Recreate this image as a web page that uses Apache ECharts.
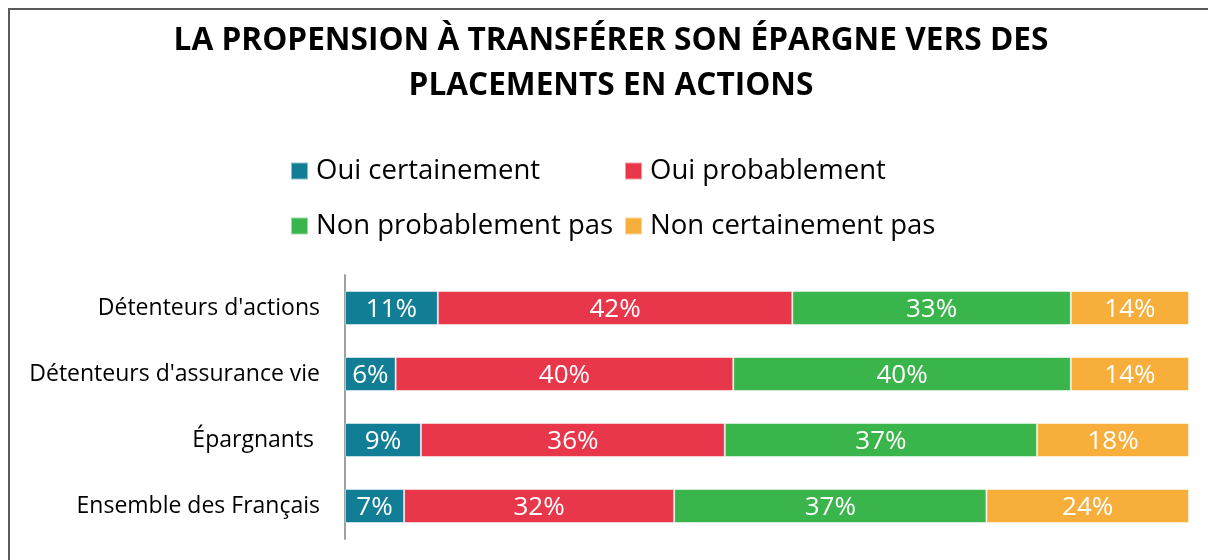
<!DOCTYPE html>
<html><head><meta charset="utf-8">
<script src="https://cdn.jsdelivr.net/npm/echarts@6/dist/echarts.min.js"></script>
<style>html,body{margin:0;padding:0;background:#fff}#c{width:1208px;height:560px}</style>
</head><body><div id="c"></div>
<script>
const categories = ["Détenteurs d'actions", "Détenteurs d'assurance vie", "Épargnants ", "Ensemble des Français"];
const seriesNames = ["Oui certainement", "Oui probablement", "Non probablement pas", "Non certainement pas"];
const ouiCertainement = [11, 6, 9, 7];
const ouiProbablement = [42, 40, 36, 32];
const nonProbablementPas = [33, 40, 37, 37];
const nonCertainementPas = [14, 14, 18, 24];
const colors = ["#117E96", "#E8374A", "#3AB54B", "#F8AE3B"];
const values = [ouiCertainement, ouiProbablement, nonProbablementPas, nonCertainementPas];
const FONT = "Open Sans";

const chart = echarts.init(document.getElementById('c'), null, {renderer: 'canvas'});
const legendPos = [[290, 157], [624, 157], [290, 212], [624, 212]];
const option = {
  animation: false,
  backgroundColor: '#fff',
  title: {
    text: 'LA PROPENSION À TRANSFÉRER SON ÉPARGNE VERS DES\nPLACEMENTS EN ACTIONS',
    left: 611, top: 18, textAlign: 'center', padding: 0,
    textStyle: {fontFamily: FONT, fontWeight: 'bold', fontSize: 31.6, lineHeight: 45, color: '#000'}
  },
  legend: seriesNames.map((n, i) => ({
    data: [n], left: legendPos[i][0], top: legendPos[i][1], padding: 0,
    icon: 'rect', itemWidth: 17, itemHeight: 17, selectedMode: false,
    textStyle: {fontFamily: FONT, fontSize: 27.5, color: '#000', padding: [0, 0, 0, 3]}
  })),
  grid: {left: 345, right: 19, top: 275, bottom: 21, containLabel: false},
  xAxis: {type: 'value', min: 0, max: 100, show: false},
  yAxis: {
    type: 'category', data: categories, inverse: true,
    axisLine: {show: true, lineStyle: {color: '#A0A0A0', width: 2}},
    axisTick: {show: false},
    axisLabel: {fontFamily: FONT, fontSize: 23, color: '#000', margin: 25}
  },
  graphic: [{
    type: 'rect', shape: {x: 9, y: 9, width: 1220, height: 600},
    style: {fill: 'none', stroke: '#5A5A5A', lineWidth: 2}, silent: true, z: 100
  }],
  series: seriesNames.map((n, i) => ({
    name: n, type: 'bar', stack: 'total', barWidth: 34,
    data: values[i],
    itemStyle: {color: colors[i], borderColor: 'rgba(255,255,255,0.5)', borderWidth: 1},
    label: {show: true, position: 'inside', offset: [0, 2], formatter: '{c}%', color: '#fff', fontFamily: FONT, fontSize: 26}
  }))
};
chart.setOption(option);
</script></body></html>
